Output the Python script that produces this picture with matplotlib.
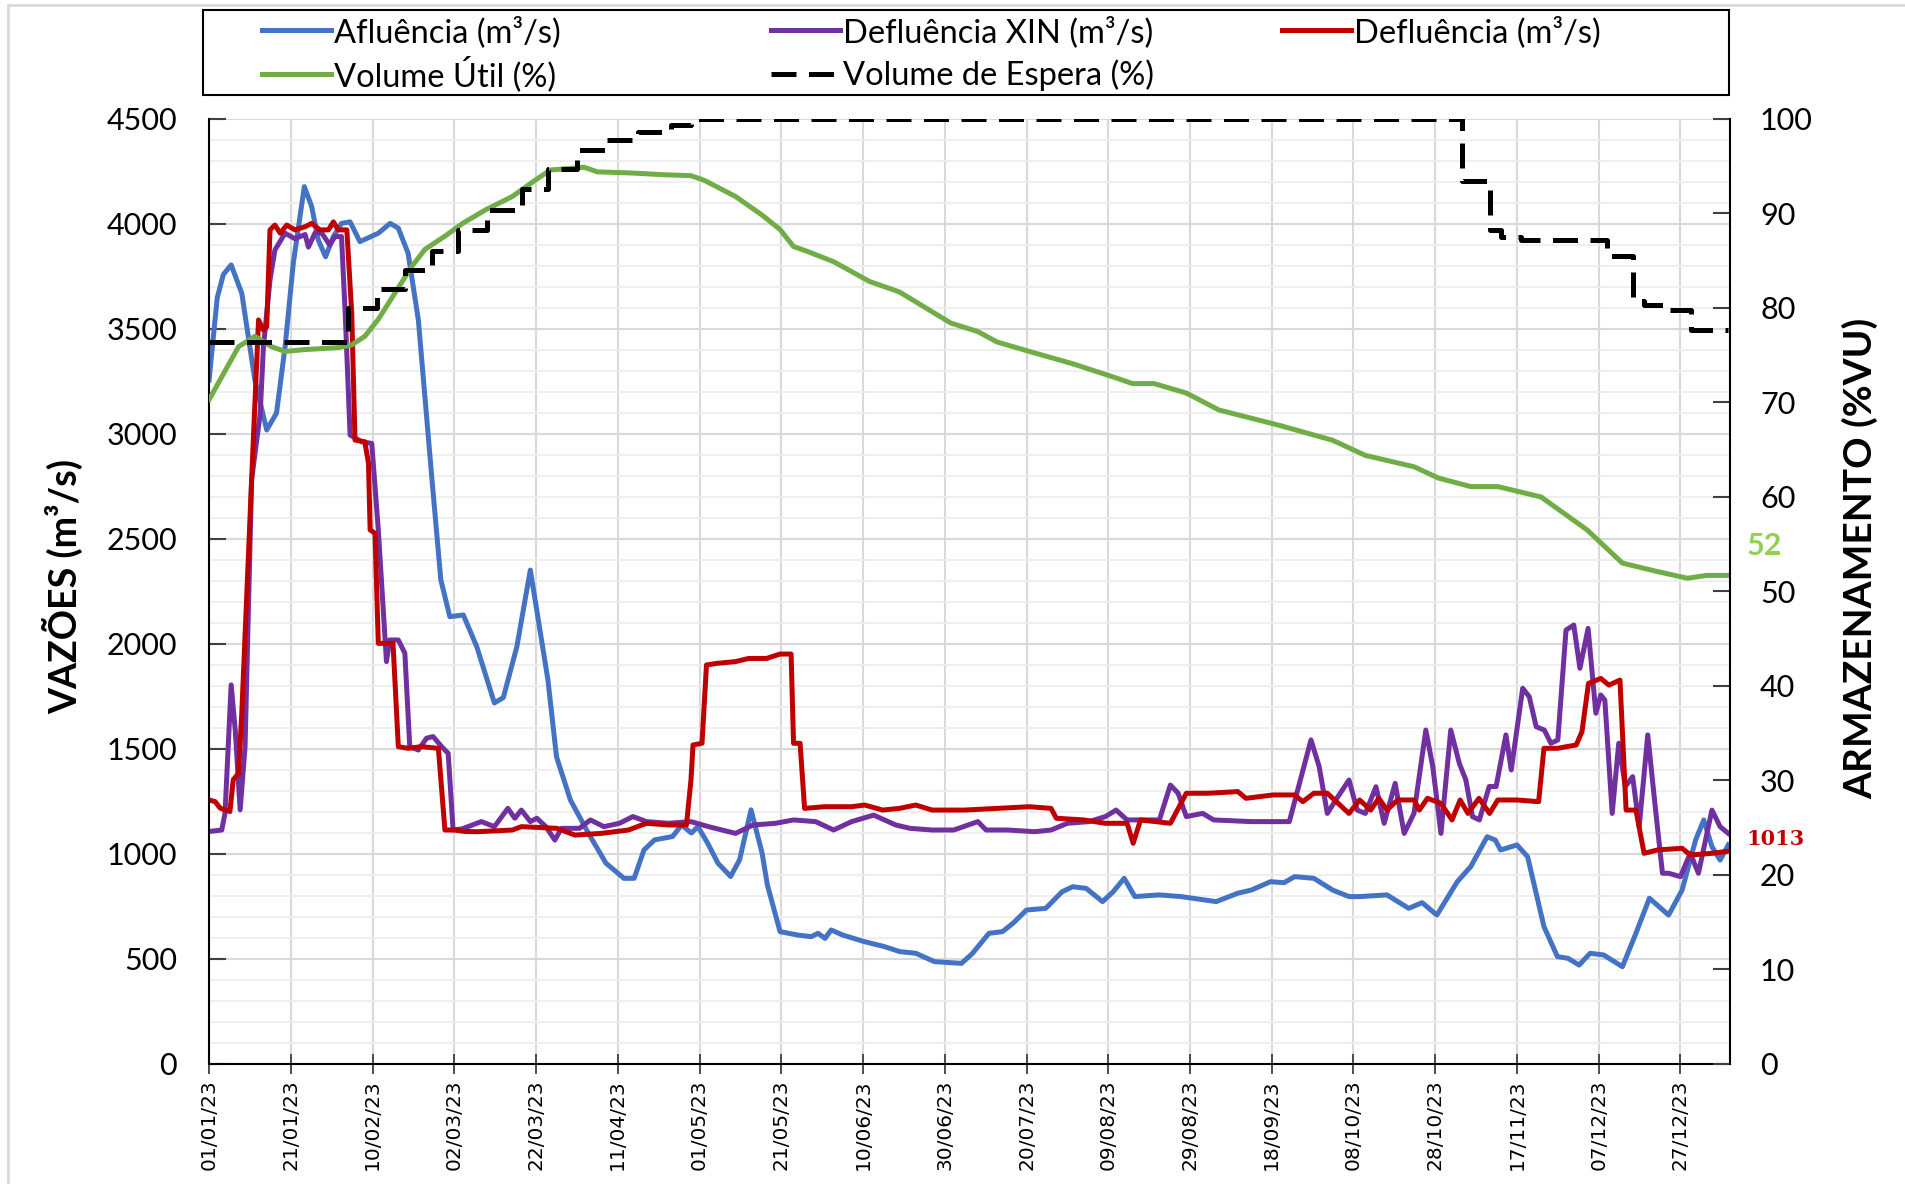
# Vazões e armazenamento 2023 - recriação do gráfico

import matplotlib
matplotlib.use('Agg')
import matplotlib.pyplot as plt
from matplotlib.lines import Line2D
from matplotlib.patches import Rectangle
from matplotlib.ticker import MultipleLocator

plt.rcParams['font.family'] = ['Lato', 'DejaVu Sans']

# eixo x: dias desde 01/01/23
tick_days = list(range(0, 361, 20))
tick_labels = ['01/01/23', '21/01/23', '10/02/23', '02/03/23', '22/03/23', '11/04/23',
               '01/05/23', '21/05/23', '10/06/23', '30/06/23', '20/07/23', '09/08/23',
               '29/08/23', '18/09/23', '08/10/23', '28/10/23', '17/11/23', '07/12/23',
               '27/12/23']

# (dia, m3/s)
afluencia = [(0, 3257), (2, 3650), (3.5, 3760), (5.4, 3805), (8, 3670), (11.2, 3257), (14.1, 3019),
             (16.5, 3100), (18.6, 3416), (20.6, 3813), (23.3, 4178), (25.1, 4083), (26.7, 3924),
             (28.5, 3844), (30.4, 3940), (32.4, 4003), (34.5, 4010), (36.9, 3916), (41.4, 3956),
             (44.3, 4003), (46.3, 3980), (48.7, 3860), (51.2, 3543), (54.4, 2813), (56.7, 2305),
             (58.9, 2130), (62.2, 2138), (65.5, 1987), (69.8, 1719), (72, 1745), (75.3, 1987),
             (78.6, 2352), (82.9, 1829), (85, 1463), (88.4, 1257), (92.8, 1099), (97.1, 956),
             (101.5, 884), (104, 884), (106.4, 1019), (109, 1067), (113.4, 1083), (115.6, 1138),
             (118, 1100), (119.6, 1130), (122, 1051), (124.5, 956), (127.6, 893), (129.8, 972),
             (132.6, 1210), (135.3, 1004), (136.6, 852), (139.7, 630), (144, 614), (147.3, 606),
             (149, 622), (150.7, 598), (152.2, 638), (155, 614), (160.4, 582), (165, 560),
             (169, 535), (172.9, 527), (177.5, 487), (184.1, 479), (186.8, 527), (190.8, 622),
             (194.1, 630), (196.7, 670), (200, 733), (204.7, 741), (208.7, 820), (211.3, 844),
             (214.6, 836), (218.6, 773), (221.2, 820), (223.9, 884), (226.5, 797), (232.5, 805),
             (237.8, 797), (246.4, 773), (251.7, 813), (255, 828), (259.7, 868), (263, 863),
             (265.6, 892), (270.3, 884), (274.9, 828), (278.9, 797), (281.5, 797), (288.2, 805),
             (293.5, 741), (296.8, 768), (300.4, 709), (305.4, 868), (308.7, 940), (312.7, 1082),
             (314.7, 1066), (316, 1019), (320, 1043), (322.6, 987), (326.6, 654), (329.9, 511),
             (332.5, 503), (335.2, 471), (337.9, 527), (341.2, 519), (345.8, 463), (349.1, 622),
             (352.4, 789), (357.1, 709), (360.4, 828), (363.7, 1066), (365.7, 1162), (367.7, 1035),
             (369.7, 971), (371.7, 1043)]

defluencia_xin = [(0, 1107), (3.1, 1114), (3.9, 1194), (5.4, 1805), (6.4, 1590), (7.6, 1210),
                  (8.8, 1511), (10.4, 2781), (12.5, 3097), (13.3, 3416), (14.9, 3733), (16.1, 3876),
                  (18.6, 3956), (21, 3930), (23.5, 3950), (24.3, 3890), (26, 3960), (27.6, 3956),
                  (29.5, 3900), (30.8, 3940), (32.4, 3940), (33.3, 3575), (34.5, 2995), (37.3, 2963),
                  (39.8, 2955), (41.4, 2543), (43.4, 1916), (44.2, 2019), (46.3, 2019), (47.9, 1956),
                  (49.1, 1511), (51.2, 1495), (53.2, 1551), (54.8, 1559), (56.9, 1511), (58.5, 1479),
                  (59.7, 1114), (62, 1120), (66.6, 1154), (69.8, 1130), (73.1, 1217), (74.8, 1170),
                  (76.4, 1209), (78.6, 1154), (80.2, 1170), (82.4, 1130), (84.6, 1066), (86.2, 1122),
                  (90.6, 1122), (93.3, 1162), (96.6, 1130), (100.4, 1146), (103.7, 1178), (107, 1154),
                  (112.4, 1146), (117.9, 1154), (122.2, 1130), (128.8, 1098), (133.1, 1138),
                  (138.6, 1146), (143, 1162), (148.4, 1154), (152.8, 1114), (157.2, 1154),
                  (162.6, 1185), (168, 1138), (171.5, 1122), (176.9, 1114), (182.2, 1114),
                  (188.1, 1154), (190.1, 1114), (195.4, 1114), (202, 1106), (206, 1114), (210, 1146),
                  (215.3, 1154), (219.3, 1178), (221.9, 1209), (224.6, 1162), (232.5, 1162),
                  (235.2, 1328), (237.1, 1289), (239.1, 1178), (243.1, 1193), (245.8, 1162),
                  (255, 1154), (264.3, 1154), (267, 1352), (269.6, 1543), (271.6, 1416),
                  (273.6, 1193), (276.2, 1273), (278.9, 1352), (280.9, 1209), (282.9, 1193),
                  (285.5, 1320), (287.5, 1146), (290.2, 1336), (292.4, 1098), (294.8, 1193),
                  (297.7, 1590), (299.4, 1416), (301.4, 1098), (303.8, 1590), (305.9, 1431),
                  (307.5, 1352), (309.1, 1178), (310.8, 1162), (313.2, 1321), (314.9, 1321),
                  (317.3, 1567), (318.6, 1400), (321.4, 1789), (323, 1749), (324.7, 1606),
                  (326.7, 1590), (328.3, 1527), (330, 1543), (332, 2066), (333.9, 2090),
                  (335.4, 1884), (337.4, 2074), (339.3, 1670), (340.5, 1757), (341.5, 1733),
                  (343.3, 1193), (344.9, 1527), (346.5, 1321), (348.3, 1368), (349.9, 1130),
                  (352, 1567), (354, 1193), (355.6, 908), (357.1, 908), (360, 892), (362.4, 1003),
                  (364.4, 908), (367.7, 1209), (369.7, 1130), (371.7, 1098)]

defluencia = [(0, 1257), (1.5, 1249), (2.7, 1218), (3.9, 1210), (5.1, 1202), (5.9, 1353), (7.2, 1384),
              (8, 1670), (10.4, 2781), (12.1, 3543), (13.3, 3495), (14.1, 3511), (14.9, 3972),
              (16.1, 3995), (17.4, 3956), (19, 3995), (21, 3972), (23.5, 3987), (25.1, 4003),
              (27.1, 3972), (29.2, 3972), (30.4, 4010), (31.6, 3972), (33.7, 3972), (34.9, 3575),
              (35.7, 2971), (38.1, 2963), (39, 2860), (39.4, 2543), (40.6, 2527), (41.4, 2003),
              (45, 2003), (46.3, 1511), (48.7, 1503), (52, 1511), (56.1, 1503), (57.7, 1114),
              (60.1, 1114), (62.6, 1107), (65.5, 1106), (70, 1110), (74.2, 1114), (76.4, 1130),
              (85.1, 1122), (89.5, 1090), (96, 1098), (102.6, 1114), (107, 1146), (112.4, 1138),
              (116.8, 1138), (117.9, 1352), (118.4, 1519), (120.6, 1527), (121.7, 1900),
              (124.4, 1908), (128.8, 1916), (132, 1931), (136.4, 1931), (139.7, 1952), (142.4, 1952),
              (143, 1527), (144.6, 1527), (145.7, 1217), (150.6, 1225), (157.2, 1225), (160.4, 1233),
              (164.8, 1209), (168.9, 1217), (172.9, 1233), (176.9, 1209), (184.8, 1209),
              (192.8, 1217), (200.7, 1225), (206, 1217), (207.3, 1170), (214, 1162), (219.3, 1146),
              (224.6, 1146), (226.1, 1051), (227.9, 1162), (235.2, 1146), (239.1, 1289),
              (244.4, 1289), (251.7, 1297), (253.7, 1265), (260.3, 1281), (265.6, 1281),
              (267.6, 1249), (270.3, 1289), (273.6, 1289), (278.9, 1193), (281.5, 1257),
              (284.2, 1209), (286.2, 1265), (288.2, 1209), (290.8, 1257), (294.8, 1257),
              (296.1, 1209), (298.1, 1265), (301.4, 1241), (304.1, 1162), (306.1, 1257), (308, 1193),
              (310.7, 1265), (313.3, 1193), (315.3, 1257), (320, 1257), (325.3, 1249), (326.6, 1503),
              (329.9, 1503), (334.5, 1519), (335.9, 1582), (337.5, 1812), (340.5, 1836),
              (342.5, 1804), (345.2, 1828), (346.7, 1209), (349.1, 1209), (351.1, 1003),
              (354.4, 1019), (360.4, 1027), (362.4, 995), (367.7, 1003), (371.7, 1013)]

# (dia, %VU)
volume_util = [(0, 70.3), (7.2, 75.9), (11.2, 77.0), (15.3, 75.9), (18.6, 75.4), (23.5, 75.6),
               (31.6, 75.8), (34.9, 76.1), (38.1, 77.0), (41.4, 78.8), (45.5, 81.6), (49.6, 84.4),
               (52.8, 86.2), (57.7, 87.6), (62.2, 89.0), (67.7, 90.4), (74.2, 91.8), (79.7, 93.5),
               (83.5, 94.6), (91.7, 94.9), (95, 94.4), (102.6, 94.3), (111.4, 94.1), (117.9, 94.0),
               (121.2, 93.5), (128.8, 91.8), (135.4, 89.8), (139.7, 88.3), (143, 86.5), (146.3, 86.0),
               (152.8, 84.9), (161.6, 82.8), (168.9, 81.7), (181.5, 78.4), (188.1, 77.5),
               (192.8, 76.4), (200.7, 75.4), (211.3, 74.1), (221.9, 72.6), (225.9, 72.0),
               (231.2, 72.0), (239.1, 71.0), (247.1, 69.2), (261.7, 67.6), (274.9, 66.0),
               (282.9, 64.4), (294.8, 63.2), (300.8, 62.0), (308.7, 61.1), (315.3, 61.1),
               (325.9, 60.0), (337.2, 56.5), (345.8, 53.0), (354.4, 52.1), (361.7, 51.4),
               (366.4, 51.7), (371.7, 51.7)]

# degraus do volume de espera (dia de início, %VU)
volume_espera = [(0, 76.4), (34, 80.0), (41, 82.0), (48, 84.0), (54.5, 86.0), (61, 88.2), (68, 90.4),
                 (76.5, 92.6), (83, 94.7), (90, 96.7), (97, 97.8), (105, 98.6), (113, 99.4),
                 (118, 100), (306.5, 93.4), (313.3, 88.3), (316, 87.5), (321, 87.2), (342, 85.5),
                 (348.5, 80.7), (351, 80.3), (357, 79.8), (362.5, 77.7), (371.7, 77.7)]


def split(pairs):
    return [p[0] for p in pairs], [p[1] for p in pairs]


fig = plt.figure(figsize=(19.06, 11.84), dpi=100)
ax = fig.add_axes([0.1097, 0.1014, 0.7977, 0.7981])
ax2 = ax.twinx()

lw = 3.6
l1, = ax.plot(*split(afluencia), color='#4472C4', lw=lw, label='Afluência (m³/s)')
l2, = ax.plot(*split(defluencia_xin), color='#7030A0', lw=lw, label='Defluência XIN (m³/s)')
l3, = ax.plot(*split(defluencia), color='#C00000', lw=lw, label='Defluência (m³/s)')
l4, = ax2.plot(*split(volume_util), color='#70AD47', lw=lw, label='Volume Útil (%)')
l5, = ax2.plot(*split(volume_espera), color='black', lw=lw, dashes=(5, 2.5),
               drawstyle='steps-post', label='Volume de Espera (%)')

ax.set_xlim(0, 372)
ax.set_ylim(0, 4500)
ax2.set_ylim(0, 100)

ax.set_xticks(tick_days)
ax.set_xticklabels(tick_labels, rotation=90, family=['DejaVu Sans'], fontsize=14.5)
ax.yaxis.set_major_locator(MultipleLocator(500))
ax.yaxis.set_minor_locator(MultipleLocator(100))
ax2.yaxis.set_major_locator(MultipleLocator(10))

ax.set_axisbelow(True)
ax.grid(True, which='major', color='#d9d9d9', lw=1.5)
ax.grid(True, which='minor', axis='y', color='#eeeeee', lw=1.3)

ax.tick_params(axis='x', direction='inout', length=14, width=1.3, color='#404040', pad=4)
ax.tick_params(axis='y', which='major', direction='in', length=12, width=1.5, color='#404040',
               pad=23, labelsize=22)
ax.tick_params(axis='y', which='minor', length=0)
ax2.tick_params(axis='y', direction='in', length=12, width=1.5, color='#404040',
                pad=22, labelsize=22)

for a in (ax, ax2):
    a.spines['top'].set_visible(False)
ax.spines['right'].set_visible(False)
ax.spines['left'].set_linewidth(1.5)
ax.spines['bottom'].set_linewidth(1.5)
ax2.spines['right'].set_linewidth(1.5)
ax2.spines['left'].set_visible(False)
ax2.spines['bottom'].set_visible(False)

# rótulos dos eixos
fig.text(63 / 1906, 1 - 587 / 1184, 'VAZÕES (m³/s)', rotation=90, ha='center', va='center',
         fontsize=27, fontweight='bold')
fig.text(1860 / 1906, 1 - 558 / 1184, 'ARMAZENAMENTO (%VU)', rotation=90, ha='center', va='center',
         fontsize=28, fontweight='bold')

# valores finais
ax2.annotate(f'{volume_util[-1][1]:.0f}', xy=(1, volume_util[-1][1]),
             xycoords=('axes fraction', 'data'), xytext=(12, 21), textcoords='offset points',
             color='#92D050', fontsize=22, fontweight='bold', ha='left', va='center')
ax.annotate(f'{defluencia[-1][1]:.0f}', xy=(1, defluencia[-1][1]),
            xycoords=('axes fraction', 'data'), xytext=(12, 8.6), textcoords='offset points',
            color='#C00000', fontsize=15, fontweight='bold', ha='left', va='center',
            family=['DejaVu Serif'])

# legenda em três colunas, com moldura única
columns = [[l1, l4], [l2, l5], [l3]]
col_x = [262, 771, 1282]
col_spacing = [0.25, 0.36, 0.25]
for handles, x, sp in zip(columns, col_x, col_spacing):
    fig.legend(handles=handles, loc='upper left', bbox_to_anchor=(x / 1906, 1 - 16 / 1184),
               borderpad=0, borderaxespad=0, frameon=False, fontsize=23.5,
               handlelength=2.1, handletextpad=0.1, labelspacing=sp)
fig.add_artist(Rectangle((203 / 1906, 1 - 95 / 1184), 1526 / 1906, 85 / 1184,
                         transform=fig.transFigure, fill=False, edgecolor='black', lw=1.5))

# borda da área do gráfico
fig.add_artist(Line2D([8 / 1906, 8 / 1906], [0, 1 - 5 / 1184], color='#d9d9d9', lw=2))
fig.add_artist(Line2D([8 / 1906, 1], [1 - 5 / 1184, 1 - 5 / 1184], color='#d9d9d9', lw=2))

fig.savefig('out.png', dpi=100)
